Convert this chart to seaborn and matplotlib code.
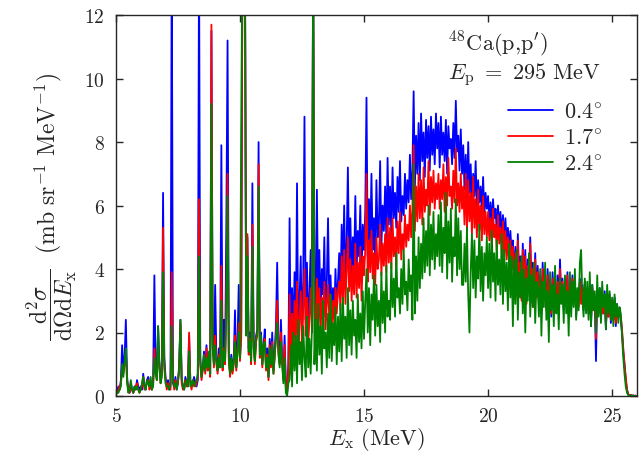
import numpy as np
import pandas as pd
import matplotlib
matplotlib.use("Agg")
import matplotlib.pyplot as plt
import seaborn as sns

# spectrum sampled every 0.05 MeV from 5.00 to 26.00 MeV (one row = 1 MeV)
e_start, e_step = 5.0, 0.05

cs_04 = [
    0.3, 0.1, 0.3, 0.2, 0.5, 1.6, 0.9, 1.2, 2.4, 0.6, 0.2, 0.1, 0.4, 0.2, 0.1, 0.3, 0.2, 0.5, 0.3, 0.2,
    0.3, 0.2, 0.7, 0.3, 0.2, 0.5, 0.6, 0.3, 0.4, 0.2, 0.5, 3.8, 0.9, 0.6, 2.2, 1.1, 0.5, 0.8, 6.4, 1.2,
    0.6, 0.3, 0.5, 0.2, 0.3, 14.0, 0.4, 0.3, 0.6, 0.2, 0.4, 1.0, 2.4, 0.5, 0.3, 0.2, 0.6, 0.4, 0.3, 1.9,
    0.5, 0.3, 0.4, 0.6, 0.4, 0.3, 0.5, 14.0, 1.2, 0.6, 0.9, 1.4, 0.8, 1.6, 0.9, 1.3, 0.7, 11.5, 1.8, 1.0,
    3.5, 1.2, 0.8, 1.5, 1.0, 7.9, 0.9, 2.4, 1.1, 5.4, 11.2, 1.4, 0.7, 1.3, 0.8, 1.2, 2.7, 0.9, 1.6, 3.5,
    1.2, 2.0, 14.0, 14.0, 14.0, 2.2, 5.0, 1.5, 2.0, 1.1, 6.7, 1.8, 1.2, 1.9, 2.1, 8.0, 1.4, 2.0, 1.0, 1.6,
    2.1, 0.9, 1.5, 0.6, 1.8, 1.0, 2.0, 0.8, 1.4, 2.2, 4.2, 1.6, 1.1, 2.4, 1.2, 0.6, 1.9, 0.3, 0.1, 1.0,
    5.6, 1.2, 3.4, 1.8, 3.9, 2.0, 6.7, 1.6, 3.0, 4.4, 1.8, 3.6, 8.8, 2.4, 4.2, 1.9, 3.2, 4.6, 2.5, 14.0,
    3.8, 2.4, 6.5, 3.0, 4.6, 2.6, 4.0, 3.2, 5.0, 2.5, 3.6, 5.6, 2.9, 3.8, 2.6, 3.4, 2.5, 4.0, 2.8, 3.6,
    4.5, 3.2, 5.4, 3.8, 6.0, 3.6, 4.8, 7.2, 4.2, 5.6, 3.7, 5.0, 4.0, 6.3, 3.9, 5.2, 4.4, 6.0, 3.8, 5.4,
    4.6, 5.8, 9.4, 4.4, 6.2, 4.8, 7.0, 4.6, 5.6, 4.3, 6.8, 5.0, 5.4, 7.4, 4.7, 6.0, 5.2, 6.6, 4.9, 7.5,
    5.4, 6.6, 5.1, 7.2, 5.6, 6.4, 5.3, 6.9, 5.8, 7.4, 5.5, 6.3, 5.7, 7.0, 5.9, 6.8, 6.1, 7.6, 6.2, 7.1,
    9.6, 6.6, 8.2, 7.0, 8.6, 6.8, 8.9, 7.4, 8.3, 6.9, 8.7, 7.5, 8.5, 7.1, 8.8, 7.6, 8.4, 7.3, 8.9, 7.8,
    8.6, 7.2, 8.8, 7.6, 8.3, 7.4, 8.7, 7.0, 8.5, 7.8, 8.1, 7.3, 8.6, 7.5, 9.3, 7.7, 8.2, 7.1, 8.4, 7.0,
    7.9, 6.5, 7.6, 6.2, 8.0, 6.4, 7.3, 6.0, 7.0, 6.3, 7.4, 5.9, 6.8, 6.1, 6.6, 5.8, 6.9, 5.7, 6.4, 5.9,
    6.3, 5.5, 6.1, 5.4, 6.2, 5.6, 5.9, 5.2, 6.0, 5.3, 5.8, 5.0, 5.7, 4.9, 5.6, 4.8, 5.3, 4.6, 5.2, 4.5,
    4.9, 3.6, 4.7, 3.3, 5.1, 3.8, 4.4, 3.1, 4.8, 3.5, 4.6, 3.0, 4.3, 3.7, 5.0, 3.4, 4.2, 2.9, 4.5, 3.2,
    4.1, 3.0, 3.8, 2.6, 4.2, 3.2, 3.6, 2.8, 4.0, 3.1, 3.5, 2.5, 3.9, 3.0, 3.4, 2.7, 3.8, 2.9, 4.3, 3.1,
    3.7, 2.7, 3.5, 3.0, 3.9, 2.6, 3.4, 2.8, 3.8, 3.1, 3.6, 2.5, 3.3, 2.9, 3.7, 3.0, 3.5, 2.7, 3.6, 2.8,
    3.4, 2.6, 3.3, 2.2, 3.5, 2.8, 3.1, 1.1, 3.2, 2.7, 3.4, 2.4, 3.0, 2.6, 3.3, 2.1, 3.1, 2.5, 3.2, 2.3,
    3.0, 2.4, 3.1, 2.2, 2.9, 2.5, 2.7, 2.4, 2.0, 1.4, 1.0, 0.5, 0.2, 0.05, 0.02, 0.03, 0.0, 0.02, 0.0, 0.01,
    0.0,
]

cs_17 = [
    0.2, 0.1, 0.2, 0.3, 0.4, 0.9, 0.7, 1.0, 1.4, 0.5, 0.2, 0.1, 0.3, 0.2, 0.1, 0.2, 0.3, 0.4, 0.2, 0.1,
    0.2, 0.3, 0.6, 0.2, 0.3, 0.4, 0.5, 0.2, 0.3, 0.2, 0.4, 1.5, 0.8, 0.5, 1.5, 1.0, 0.4, 0.7, 5.3, 1.0,
    0.5, 0.2, 0.4, 0.3, 0.2, 3.9, 0.5, 0.2, 0.5, 0.3, 0.4, 0.9, 2.3, 0.4, 0.2, 0.3, 0.5, 0.3, 0.4, 2.0,
    0.4, 0.2, 0.5, 0.4, 0.3, 0.4, 0.6, 6.2, 1.0, 0.5, 0.8, 1.2, 0.7, 1.5, 0.8, 1.1, 0.6, 11.7, 1.6, 0.9,
    1.9, 1.0, 0.7, 1.3, 0.9, 4.1, 0.8, 1.5, 1.0, 3.2, 7.0, 1.2, 0.6, 1.1, 0.7, 1.0, 1.9, 0.8, 1.4, 2.3,
    1.1, 1.8, 14.0, 14.0, 14.0, 2.0, 5.1, 1.3, 1.8, 1.0, 5.4, 1.6, 1.0, 1.7, 1.9, 7.3, 1.2, 1.8, 0.9, 1.5,
    1.8, 0.8, 1.3, 0.5, 1.6, 0.9, 1.7, 0.7, 1.2, 1.9, 3.0, 1.4, 1.0, 2.0, 1.1, 0.5, 1.6, 0.2, 0.1, 0.8,
    3.2, 1.0, 2.6, 1.4, 3.0, 1.6, 3.6, 1.3, 2.4, 3.3, 1.5, 2.8, 4.0, 1.9, 3.1, 1.6, 2.5, 3.4, 2.0, 14.0,
    2.9, 1.8, 3.7, 2.3, 3.4, 2.0, 3.1, 2.5, 3.6, 2.1, 2.9, 3.5, 2.4, 3.2, 2.2, 3.0, 2.3, 3.4, 2.6, 3.3,
    3.6, 2.7, 4.4, 3.0, 4.6, 2.9, 3.9, 5.0, 3.3, 4.3, 3.0, 4.1, 3.2, 4.8, 3.1, 4.2, 3.4, 4.7, 3.0, 4.4,
    3.8, 4.6, 7.0, 3.6, 4.9, 3.9, 5.2, 3.7, 4.5, 3.5, 5.0, 4.0, 4.3, 5.4, 3.8, 4.8, 4.1, 5.1, 3.9, 5.6,
    4.2, 5.3, 4.0, 5.6, 4.4, 5.0, 4.1, 5.5, 4.5, 5.8, 4.3, 5.1, 4.6, 5.7, 4.7, 5.4, 4.9, 6.0, 5.0, 5.9,
    7.9, 5.2, 6.6, 5.5, 7.0, 5.6, 6.8, 5.4, 7.2, 5.8, 6.5, 6.0, 7.4, 5.7, 6.9, 6.1, 7.1, 5.9, 6.7, 6.2,
    7.0, 5.9, 6.8, 6.2, 7.3, 5.8, 6.9, 6.0, 7.5, 6.3, 6.6, 5.9, 7.1, 6.1, 7.8, 6.0, 6.7, 5.8, 7.0, 5.9,
    6.6, 5.4, 7.0, 5.2, 6.8, 5.5, 6.4, 5.1, 6.9, 5.3, 6.2, 5.0, 6.5, 5.2, 6.0, 4.9, 6.3, 5.1, 5.8, 5.0,
    5.8, 4.9, 5.6, 4.7, 5.9, 5.0, 5.4, 4.6, 5.7, 4.8, 5.3, 4.5, 5.5, 4.4, 5.2, 4.3, 5.0, 4.2, 4.9, 4.0,
    4.7, 3.4, 4.5, 3.2, 4.9, 3.6, 4.2, 3.0, 4.6, 3.3, 4.4, 2.9, 4.1, 3.5, 4.8, 3.2, 4.0, 2.8, 4.3, 3.1,
    3.9, 2.9, 3.6, 2.7, 4.0, 3.1, 3.5, 2.7, 3.8, 3.0, 3.4, 2.6, 3.7, 2.9, 3.3, 2.8, 3.6, 3.0, 4.0, 3.0,
    3.6, 2.8, 3.4, 2.9, 3.8, 2.7, 3.3, 2.9, 3.7, 3.0, 3.5, 2.6, 3.2, 2.8, 3.6, 2.9, 3.4, 2.8, 3.5, 2.9,
    3.3, 2.7, 3.2, 2.4, 3.4, 2.7, 3.0, 1.8, 3.1, 2.6, 3.3, 2.5, 2.9, 2.6, 3.2, 2.2, 3.0, 2.5, 3.1, 2.4,
    2.9, 2.4, 3.0, 2.3, 2.8, 2.5, 2.6, 2.5, 2.1, 1.5, 1.0, 0.6, 0.2, 0.06, 0.02, 0.03, 0.0, 0.02, 0.0, 0.01,
    0.0,
]

cs_24 = [
    0.2, 0.1, 0.1, 0.2, 0.3, 1.0, 0.6, 1.1, 1.5, 0.4, 0.1, 0.2, 0.5, 0.2, 0.1, 0.3, 0.2, 0.3, 0.2, 0.1,
    0.2, 0.4, 0.6, 0.3, 0.2, 0.5, 0.4, 0.3, 0.6, 0.2, 0.3, 1.2, 0.7, 0.5, 2.2, 0.9, 0.4, 0.6, 3.9, 0.9,
    0.4, 0.3, 0.3, 0.2, 0.4, 2.2, 0.5, 0.3, 0.4, 0.2, 0.5, 0.8, 2.4, 0.6, 0.3, 0.2, 0.4, 0.5, 0.3, 1.4,
    0.3, 0.4, 0.5, 0.3, 0.4, 0.5, 0.7, 4.4, 1.1, 0.6, 0.9, 1.3, 0.8, 1.2, 0.9, 1.4, 0.7, 9.2, 1.5, 1.0,
    1.6, 1.1, 0.8, 1.2, 0.9, 3.0, 0.9, 1.4, 1.1, 2.6, 6.3, 1.1, 0.7, 1.2, 0.8, 1.1, 1.7, 0.9, 1.3, 2.0,
    1.2, 8.6, 14.0, 14.0, 14.0, 1.9, 4.4, 1.4, 1.7, 1.1, 4.7, 1.5, 1.1, 1.8, 2.0, 6.6, 1.3, 1.9, 1.0, 1.6,
    1.7, 0.9, 1.2, 0.6, 1.5, 1.0, 1.6, 0.7, 1.3, 1.8, 2.3, 1.3, 0.9, 1.7, 1.0, 0.4, 1.2, 0.1, 0.0, 0.4,
    0.5, 1.6, 0.3, 2.0, 0.8, 1.9, 0.4, 2.4, 1.0, 1.7, 0.5, 2.2, 1.2, 0.6, 2.5, 0.9, 1.8, 0.7, 2.1, 14.0,
    1.0, 2.4, 0.8, 2.9, 1.3, 2.2, 0.7, 3.0, 1.5, 2.0, 0.9, 2.6, 1.2, 3.2, 1.1, 2.3, 1.6, 2.8, 1.0, 2.5,
    1.4, 2.9, 1.1, 3.1, 1.8, 2.5, 1.2, 3.4, 1.6, 2.7, 1.3, 3.0, 1.9, 2.4, 1.2, 3.2, 1.7, 2.6, 1.5, 3.3,
    1.8, 3.0, 4.0, 2.0, 3.4, 1.6, 3.2, 2.4, 3.8, 1.9, 3.5, 2.2, 3.0, 1.7, 3.9, 2.3, 3.3, 2.0, 4.1, 2.5,
    3.0, 2.4, 4.2, 2.8, 3.7, 2.5, 4.5, 3.1, 3.4, 2.6, 4.0, 2.9, 4.6, 3.2, 3.6, 2.7, 4.3, 3.3, 3.8, 2.4,
    7.3, 2.6, 4.4, 3.0, 5.0, 3.4, 4.8, 3.7, 5.6, 3.9, 5.2, 4.1, 6.0, 3.8, 5.4, 4.3, 5.8, 4.0, 5.1, 4.4,
    5.7, 4.1, 6.1, 3.9, 5.3, 4.5, 6.4, 3.7, 5.5, 4.2, 5.9, 3.6, 5.0, 4.4, 6.2, 3.8, 5.6, 4.0, 5.2, 3.5,
    3.5, 4.8, 3.6, 5.3, 3.2, 2.0, 3.9, 5.1, 3.4, 4.9, 3.1, 4.4, 3.7, 5.4, 3.3, 4.7, 3.0, 4.5, 3.8, 5.0,
    3.4, 4.8, 3.1, 5.2, 3.6, 4.5, 3.0, 4.9, 3.5, 4.3, 3.2, 5.1, 2.9, 4.6, 3.3, 4.2, 2.7, 4.8, 3.1, 4.4,
    2.2, 4.3, 2.9, 4.6, 2.4, 3.9, 3.1, 4.4, 2.6, 4.0, 2.0, 3.7, 3.0, 4.5, 2.5, 3.8, 2.8, 4.2, 2.3, 3.6,
    3.4, 2.5, 4.0, 1.9, 3.6, 2.8, 4.2, 2.4, 3.3, 1.7, 3.9, 2.7, 3.5, 2.2, 4.1, 2.6, 3.2, 2.1, 3.7, 2.9,
    3.5, 2.3, 3.8, 2.6, 3.3, 1.9, 3.9, 2.5, 3.6, 2.8, 4.0, 2.4, 3.4, 2.7, 4.2, 4.6, 3.1, 2.5, 3.7, 2.6,
    3.6, 2.4, 3.9, 2.2, 3.5, 2.7, 3.3, 2.0, 3.8, 2.5, 3.4, 2.3, 3.6, 2.8, 3.2, 2.1, 3.5, 2.6, 3.3, 2.4,
    3.1, 2.2, 3.2, 2.5, 2.9, 2.3, 2.8, 2.6, 1.9, 1.2, 0.7, 0.3, 0.1, 0.03, 0.01, 0.02, 0.0, 0.01, 0.0, 0.0,
    0.0,
]

angles = ["$0.4^{\\circ}$", "$1.7^{\\circ}$", "$2.4^{\\circ}$"]
colors = ["blue", "red", "green"]


def build_frame():
    ex = e_start + e_step * np.arange(len(cs_04))
    frames = []
    for name, vals in zip(angles, [cs_04, cs_17, cs_24]):
        frames.append(pd.DataFrame({"Ex": ex, "cs": vals, "angle": name}))
    return pd.concat(frames, ignore_index=True)


def main():
    sns.set_style("ticks")
    plt.rcParams["font.family"] = "serif"
    plt.rcParams["font.serif"] = ["cmr10", "DejaVu Serif"]
    plt.rcParams["mathtext.fontset"] = "cm"
    plt.rcParams["axes.formatter.use_mathtext"] = True

    df = build_frame()
    fig = plt.figure(figsize=(6.44, 4.6), dpi=100)
    ax = fig.add_axes([0.180, 0.137, 0.809, 0.828])
    sns.lineplot(data=df, x="Ex", y="cs", hue="angle", hue_order=angles,
                 palette=colors, estimator=None, lw=1.3, ax=ax)

    ax.set_xlim(5, 26); ax.set_ylim(0, 12)
    ax.set_xticks([5, 10, 15, 20, 25]); ax.set_yticks([0, 2, 4, 6, 8, 10, 12])
    ax.tick_params(direction="in", top=True, right=True, length=5, width=1.0,
                   labelsize=14, pad=8)
    for s in ax.spines.values():
        s.set_linewidth(1.0)
    ax.set_xlabel(r"$E_\mathrm{x}\ (\mathrm{MeV})$", fontsize=16, labelpad=0)
    ax.set_ylabel(r"$\dfrac{\mathrm{d}^2\sigma}{\mathrm{d}\mathit{\Omega}\mathrm{d}E_\mathrm{x}}"
                  r"\ \ (\mathrm{mb\ sr^{-1}\ MeV^{-1}})$", fontsize=17, labelpad=4)

    fig.text(0.695, 0.935, r"$^{48}\mathrm{Ca(p{,}p^{\prime})}$", fontsize=16, va="top")
    fig.text(0.695, 0.868, r"$E_\mathrm{p}\ =\ 295\ \mathrm{MeV}$", fontsize=16, va="top")

    ax.legend(title=None, loc="upper right", bbox_to_anchor=(0.952, 0.80),
              bbox_transform=fig.transFigure, frameon=False, fontsize=16,
              handlelength=2.0, handletextpad=0.5, labelspacing=0.3, borderpad=0)

    fig.savefig("out.png", dpi=100)
    plt.close(fig)


if __name__ == "__main__":
    main()
